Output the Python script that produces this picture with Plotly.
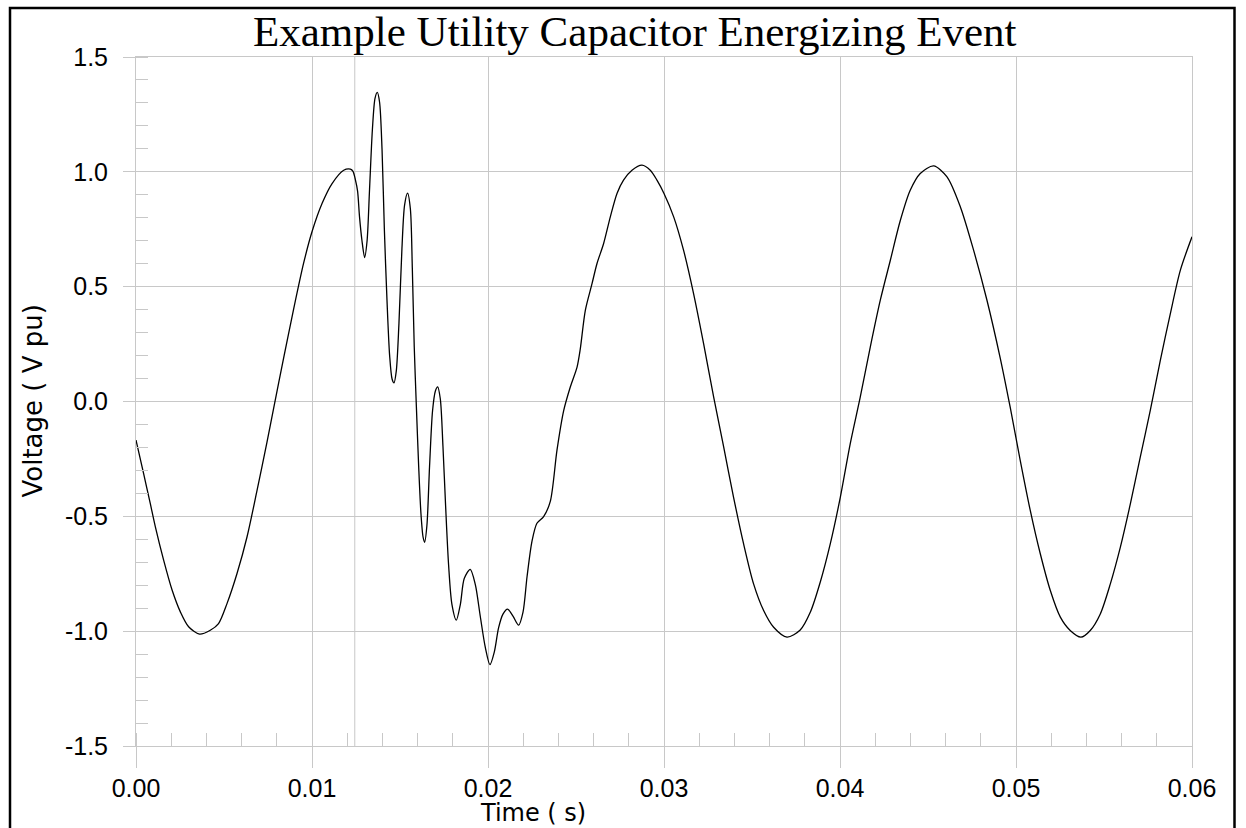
import plotly.graph_objects as go

# ---- data ----
time_s = [
    0.0, 0.00043, 0.00081, 0.0011, 0.00157, 0.00205, 0.00252, 0.00299, 0.00361, 0.00422,
    0.00469, 0.00517, 0.00574, 0.00631, 0.00688, 0.00744, 0.00782, 0.00839, 0.00895, 0.00952,
    0.01, 0.01057, 0.01114, 0.0118, 0.01218,
    0.01233, 0.01246, 0.01259, 0.0127, 0.01284, 0.01299, 0.01313, 0.01327, 0.01343, 0.01358,
    0.01371, 0.01384, 0.01398, 0.01411, 0.01426, 0.01441, 0.01455, 0.01466, 0.01479, 0.01494,
    0.01511, 0.01526, 0.01543, 0.01559, 0.0157, 0.01581, 0.01593, 0.01606, 0.01619, 0.01631,
    0.0164, 0.01653, 0.01668, 0.01685, 0.01701, 0.01714, 0.01729, 0.01744, 0.01759, 0.01776,
    0.01795, 0.0182, 0.01843, 0.01865, 0.01899, 0.01928, 0.01956, 0.01985, 0.02011, 0.02036,
    0.0206, 0.02085, 0.02111, 0.02142, 0.02174, 0.02199, 0.02222, 0.0225, 0.02278, 0.02316,
    0.02354, 0.02392, 0.0243, 0.02468, 0.02506, 0.02524,
    0.02553, 0.02591, 0.02619, 0.02657, 0.02695, 0.02733, 0.0277, 0.02818, 0.02875, 0.02922,
    0.0296, 0.03, 0.03055, 0.03111, 0.03168, 0.03225, 0.03282, 0.03339, 0.03395, 0.03452,
    0.03509, 0.03566, 0.03623, 0.03699, 0.03774, 0.03831, 0.03888, 0.03945, 0.04002, 0.04058,
    0.04115, 0.04172, 0.04229, 0.04286, 0.04343, 0.04399, 0.04456, 0.04532, 0.04608, 0.04684,
    0.04759, 0.04835, 0.04911, 0.04967, 0.05024, 0.05081, 0.05138, 0.05195, 0.05252, 0.05308,
    0.05369, 0.05422, 0.05479, 0.05536, 0.05593, 0.0565, 0.05706, 0.05763, 0.0582, 0.05877,
    0.05934, 0.06,
]
voltage_pu = [
    -0.168, -0.313, -0.444, -0.546, -0.691, -0.821, -0.916, -0.981, -1.013, -0.996,
    -0.967, -0.880, -0.749, -0.589, -0.386, -0.178, -0.03, 0.19, 0.40, 0.601,
    0.739, 0.862, 0.949, 1.007, 1.012,
    1.002, 0.967, 0.916, 0.804, 0.70, 0.627, 0.70, 0.924, 1.182, 1.32,
    1.346, 1.303, 1.096, 0.752, 0.442, 0.201, 0.098, 0.081, 0.133, 0.339,
    0.666, 0.855, 0.907, 0.838, 0.58, 0.236, -0.022, -0.281, -0.487, -0.590,
    -0.613, -0.539, -0.281, -0.040, 0.046, 0.064, 0.012, -0.194, -0.452, -0.711,
    -0.883, -0.952, -0.883, -0.771, -0.731, -0.797, -0.935, -1.072, -1.146, -1.09,
    -0.986, -0.926, -0.904, -0.935, -0.974, -0.917, -0.762, -0.608, -0.530, -0.501,
    -0.435, -0.212, -0.040, 0.064, 0.150, 0.227,
    0.397, 0.513, 0.60, 0.688, 0.804, 0.906, 0.964, 1.007, 1.029, 1.007,
    0.964, 0.906, 0.804, 0.659, 0.470, 0.252, 0.020, -0.198, -0.416, -0.619,
    -0.794, -0.910, -0.983, -1.026, -0.995, -0.918, -0.786, -0.619, -0.416, -0.184,
    0.019, 0.237, 0.441, 0.615, 0.789, 0.920, 0.993, 1.026, 0.978, 0.847,
    0.659, 0.441, 0.187, -0.025, -0.256, -0.474, -0.663, -0.823, -0.939, -0.997,
    -1.026, -0.997, -0.925, -0.794, -0.634, -0.445, -0.242, -0.039, 0.179, 0.383,
    0.572, 0.717,
]
switch_time = 0.01243

x_ticks = [0.0, 0.01, 0.02, 0.03, 0.04, 0.05, 0.06]
x_tick_labels = ["0.00", "0.01", "0.02", "0.03", "0.04", "0.05", "0.06"]
y_ticks = [-1.5, -1.0, -0.5, 0.0, 0.5, 1.0, 1.5]
y_tick_labels = ["-1.5", "-1.0", "-0.5", "0.0", "0.5", "1.0", "1.5"]

title_text = "Example Utility Capacitor Energizing Event"
x_title = "Time ( s)"
y_title = "Voltage ( V pu)"

# ---- styling ----
W, H = 1246, 828
L, R, T, B = 136, 54, 57, 82
GRID = "#c8c8c8"
SANS = "Liberation Sans, Arial, sans-serif"
WIDE_SANS = "DejaVu Sans, Verdana, sans-serif"
SERIF = "Liberation Serif, Times New Roman, serif"


def px_to_paper_x(px):
    return (px - L) / (W - L - R)


def px_to_paper_y(py):
    return (H - B - py) / (H - T - B)


fig = go.Figure()
fig.add_trace(go.Scatter(
    x=time_s, y=voltage_pu, mode="lines",
    line=dict(color="black", width=1.3, shape="spline", smoothing=0.8),
    showlegend=False, hoverinfo="skip",
))

fig.update_xaxes(
    range=[0, 0.06], tickmode="array", tickvals=x_ticks, ticktext=x_tick_labels,
    showgrid=True, gridcolor=GRID, gridwidth=1,
    ticks="outside", ticklen=21, tickcolor=GRID, tickwidth=1,
    showline=True, linecolor=GRID, linewidth=1, mirror=True,
    zeroline=False,
    tickfont=dict(family=SANS, size=25, color="black"),
    ticklabelstandoff=-1,
    minor=dict(dtick=0.002, tick0=0, ticks="inside", ticklen=13, tickcolor=GRID, tickwidth=1, showgrid=False),
)
fig.update_yaxes(
    range=[-1.5, 1.5], tickmode="array", tickvals=y_ticks, ticktext=y_tick_labels,
    showgrid=True, gridcolor=GRID, gridwidth=1,
    ticks="outside", ticklen=12, tickcolor=GRID, tickwidth=1,
    showline=True, linecolor=GRID, linewidth=1, mirror=True,
    zeroline=False,
    tickfont=dict(family=SANS, size=25, color="black"),
    ticklabelstandoff=10,
    minor=dict(dtick=0.1, tick0=0, ticks="inside", ticklen=12, tickcolor=GRID, tickwidth=1, showgrid=False),
)

fig.add_shape(type="line", xref="x", yref="y", x0=switch_time, x1=switch_time, y0=-1.5, y1=1.5,
              line=dict(color=GRID, width=1), layer="below")

# outer black frame
fig.add_shape(type="rect", xref="paper", yref="paper",
              x0=px_to_paper_x(10), x1=px_to_paper_x(1234.5),
              y0=px_to_paper_y(900), y1=px_to_paper_y(8),
              line=dict(color="black", width=2.5), fillcolor="rgba(0,0,0,0)", layer="above")

fig.add_annotation(text=title_text, xref="paper", yref="paper",
                   x=px_to_paper_x(634), y=px_to_paper_y(32), xanchor="center", yanchor="middle",
                   showarrow=False, font=dict(family=SERIF, size=43, color="black"))
fig.add_annotation(text=y_title, xref="paper", yref="paper", textangle=-90,
                   x=px_to_paper_x(32.5), y=px_to_paper_y(401), xanchor="center", yanchor="middle",
                   showarrow=False, font=dict(family=WIDE_SANS, size=26, color="black"))
fig.add_annotation(text=x_title, xref="paper", yref="paper",
                   x=px_to_paper_x(533), y=px_to_paper_y(813), xanchor="center", yanchor="middle",
                   showarrow=False, font=dict(family=WIDE_SANS, size=24, color="black"))

fig.update_layout(
    width=W, height=H, margin=dict(l=L, r=R, t=T, b=B),
    paper_bgcolor="white", plot_bgcolor="white",
)

fig.write_html("out.html")
